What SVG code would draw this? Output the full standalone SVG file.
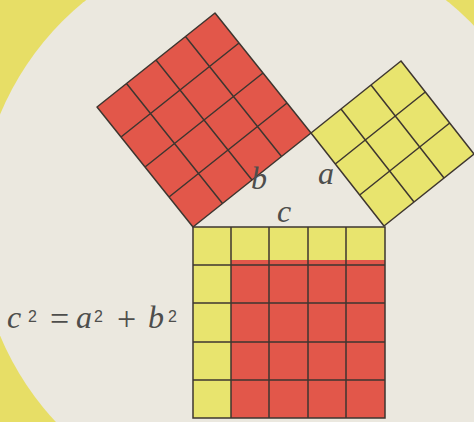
<svg xmlns="http://www.w3.org/2000/svg" width="474" height="422" viewBox="0 0 474 422">
<style>
.red{fill:#e2574a}
.yel{fill:#e8e46e}
.grid{stroke:#3e3630;stroke-width:1.5;fill:none;stroke-linecap:round}
.lbl{font-family:"Liberation Serif",serif;font-style:italic;font-size:32px;fill:#4e4e4c}
.op{font-family:"Liberation Serif",serif;font-style:normal;font-size:34px;fill:#4e4e4c}
.sup{font-family:"Liberation Sans",sans-serif;font-style:normal;font-size:16px;fill:#4e4e4c}
</style>
<rect x="0" y="0" width="474" height="422" fill="#e7de66"/>
<circle cx="266" cy="225" r="288" fill="#ebe8df"/>

<g id="square-b">
<polygon class="red" points="193,227 311,133 215,13 97,107"/>
<path class="grid" d="M193,227L311,133M169,197L287,103M145,167L263,73M121,137L239,43M97,107L215,13
M193,227L97,107M222.5,203.5L126.5,83.5M252,180L156,60M281.5,156.5L185.5,36.5M311,133L215,13"/>
</g>

<g id="square-a">
<polygon class="yel" points="311,133 401,61 474,154 384,226"/>
<path class="grid" d="M311,133L384,226M341,109L414,202M371,85L444,178M401,61L474,154
M311,133L401,61M335.3,164L425.3,92M359.7,195L449.7,123M384,226L474,154"/>
</g>

<g id="square-c">
<rect class="yel" x="193" y="227" width="192" height="191"/>
<rect class="red" x="231" y="260" width="154" height="158"/>
<path class="grid" d="M193,227H385V418H193Z
M231,227V418M269,227V418M308,227V418M346,227V418
M193,265H385M193,303H385M193,342H385M193,380H385"/>
</g>

<text class="lbl" x="251" y="189">b</text>
<text class="lbl" x="318" y="184">a</text>
<text class="lbl" x="277" y="222">c</text>

<text class="lbl" x="7" y="328">c<tspan class="sup" x="28" y="322">2</tspan><tspan class="op" x="50" y="330">=</tspan><tspan x="76" y="328">a</tspan><tspan class="sup" x="94" y="322">2</tspan><tspan class="op" x="117" y="330">+</tspan><tspan x="148" y="328">b</tspan><tspan class="sup" x="168" y="322">2</tspan></text>
</svg>
